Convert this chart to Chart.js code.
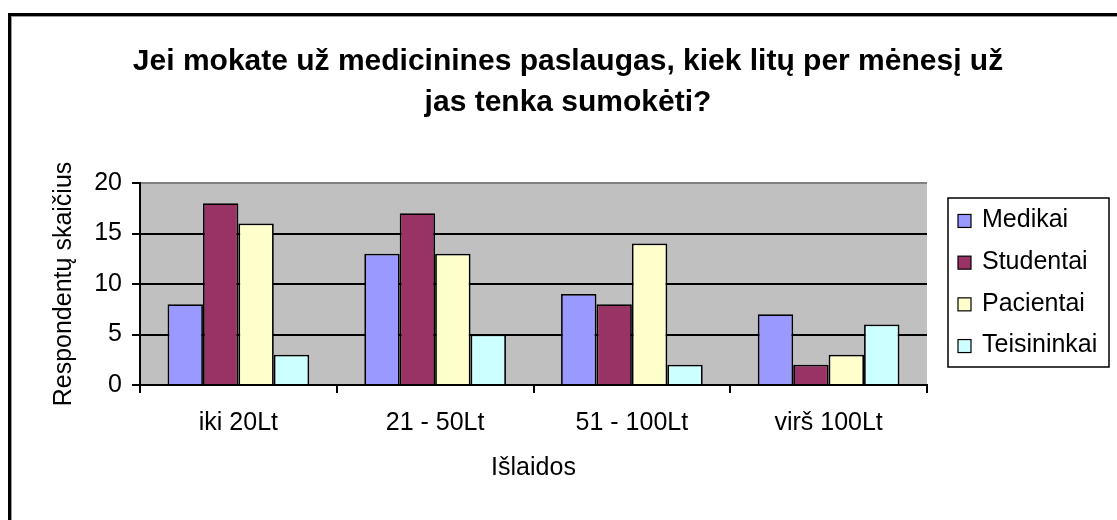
<!DOCTYPE html>
<html>
<head>
<meta charset="utf-8">
<script src="https://cdn.jsdelivr.net/npm/chart.js@4.4.1/dist/chart.umd.min.js"></script>
<style>
  html, body { margin: 0; padding: 0; background: #fff; }
  #wrap { width: 1117px; height: 520px; position: relative; }
</style>
</head>
<body>
<div id="wrap"><canvas id="c" width="1117" height="520"></canvas></div>
<script>
const categories = ['iki 20Lt', '21 - 50Lt', '51 - 100Lt', 'virš 100Lt'];
const medikai = [8, 13, 9, 7];
const studentai = [18, 17, 8, 2];
const pacientai = [16, 13, 14, 3];
const teisininkai = [3, 5, 2, 6];
const seriesNames = ['Medikai', 'Studentai', 'Pacientai', 'Teisininkai'];
const yTicks = [0, 5, 10, 15, 20];
const titleLines = ['Jei mokate už medicinines paslaugas, kiek litų per mėnesį už', 'jas tenka sumokėti?'];
const yTitle = 'Respondentų skaičius';
const xTitle = 'Išlaidos';

const colors = ['#9999FF', '#993366', '#FFFFCC', '#CCFFFF'];
const FONT = 'Liberation Sans, Arial, sans-serif';
const TXT = 25;

const framePlugin = {
  id: 'frame',
  beforeDraw(chart) {
    const ctx = chart.ctx;
    const a = chart.chartArea;
    ctx.save();
    ctx.fillStyle = '#fff';
    ctx.fillRect(0, 0, chart.width, chart.height);
    // outer chart border (only top and left visible)
    ctx.fillStyle = '#000';
    ctx.fillRect(8, 13, chart.width, 3);
    ctx.fillRect(8, 13, 3, chart.height);
    ctx.fillStyle = '#9a9a9a';
    ctx.fillRect(11, 16, chart.width, 1);
    ctx.fillRect(11, 16, 1, chart.height);
    // plot area
    ctx.fillStyle = '#C0C0C0';
    ctx.fillRect(a.left, a.top, a.right - a.left, a.bottom - a.top);
    ctx.restore();
  }
};

const legendPlugin = {
  id: 'boxLegend',
  afterDraw(chart) {
    const ctx = chart.ctx;
    const a = chart.chartArea;
    const left = a.right + 21, right = chart.width - 8;
    const cy = (a.top + a.bottom) / 2;
    const top = cy - 86, bottom = cy + 83;
    ctx.save();
    ctx.strokeStyle = '#000';
    ctx.lineWidth = 1.5;
    ctx.strokeRect(left, top, right - left, bottom - top);
    const ds = chart.data.datasets;
    const step = 41.7;
    ctx.font = TXT + 'px ' + FONT;
    ctx.textBaseline = 'middle';
    ctx.textAlign = 'left';
    ds.forEach((d, i) => {
      const y = cy - 1 + (i - (ds.length - 1) / 2) * step;
      ctx.fillStyle = d.backgroundColor;
      ctx.fillRect(left + 10, y - 6, 13, 13);
      ctx.lineWidth = 1.2;
      ctx.strokeStyle = '#000';
      ctx.strokeRect(left + 10, y - 6, 13, 13);
      ctx.fillStyle = '#000';
      ctx.fillText(d.label, left + 34, y);
    });
    ctx.restore();
  }
};

const dataSeries = [medikai, studentai, pacientai, teisininkai];

new Chart(document.getElementById('c'), {
  type: 'bar',
  data: {
    labels: categories,
    datasets: dataSeries.map((vals, i) => ({
      label: seriesNames[i],
      data: vals,
      backgroundColor: colors[i],
      borderColor: '#000',
      borderWidth: 1.75,
      categoryPercentage: 0.72,
      barPercentage: 1.0
    }))
  },
  options: {
    responsive: false,
    animation: false,
    devicePixelRatio: 1,
    layout: { padding: { left: 19, right: 0, top: 0, bottom: 25 } },
    plugins: {
      legend: { display: false },
      tooltip: { enabled: false },
      title: {
        display: true,
        text: titleLines,
        color: '#000',
        font: { family: FONT, size: 30, weight: 'bold', lineHeight: '41px' },
        padding: { top: 41, bottom: 60 }
      }
    },
    scales: {
      x: {
        offset: true,
        afterFit(s) { s.height = 110; },
        grid: {
          offset: true,
          drawOnChartArea: true,
          drawTicks: true,
          tickLength: 8,
          lineWidth: 2,
          color: (ctx) => (ctx.index === categories.length ? '#808080' : 'rgba(0,0,0,0)'),
          tickColor: '#000'
        },
        border: { display: true, color: '#000', width: 2 },
        ticks: { color: '#000', font: { family: FONT, size: TXT }, padding: 15, maxRotation: 0 },
        title: {
          display: true, text: xTitle, color: '#000',
          font: { family: FONT, size: TXT },
          padding: { top: 0, bottom: 12 }
        }
      },
      y: {
        min: 0, max: 20,
        afterFit(s) { s.width = 121; },
        afterBuildTicks(s) { s.ticks = yTicks.map(v => ({ value: v })); },
        grid: {
          drawTicks: true,
          tickLength: 8,
          lineWidth: 2,
          color: (ctx) => (ctx.tick && ctx.tick.value === 20 ? '#808080' : '#000'),
          tickColor: '#000'
        },
        border: { display: true, color: '#000', width: 2 },
        ticks: { color: '#000', font: { family: FONT, size: TXT }, padding: 10 },
        title: {
          display: true, text: yTitle, color: '#000',
          font: { family: FONT, size: TXT },
          padding: { top: 30, bottom: 0 }
        }
      },
      yR: {
        type: 'linear',
        position: 'right',
        display: true,
        afterFit(s) { s.width = 190; },
        grid: { display: false, drawOnChartArea: false },
        border: { display: false },
        ticks: { display: false }
      }
    }
  },
  plugins: [framePlugin, legendPlugin]
});
</script>
</body>
</html>
